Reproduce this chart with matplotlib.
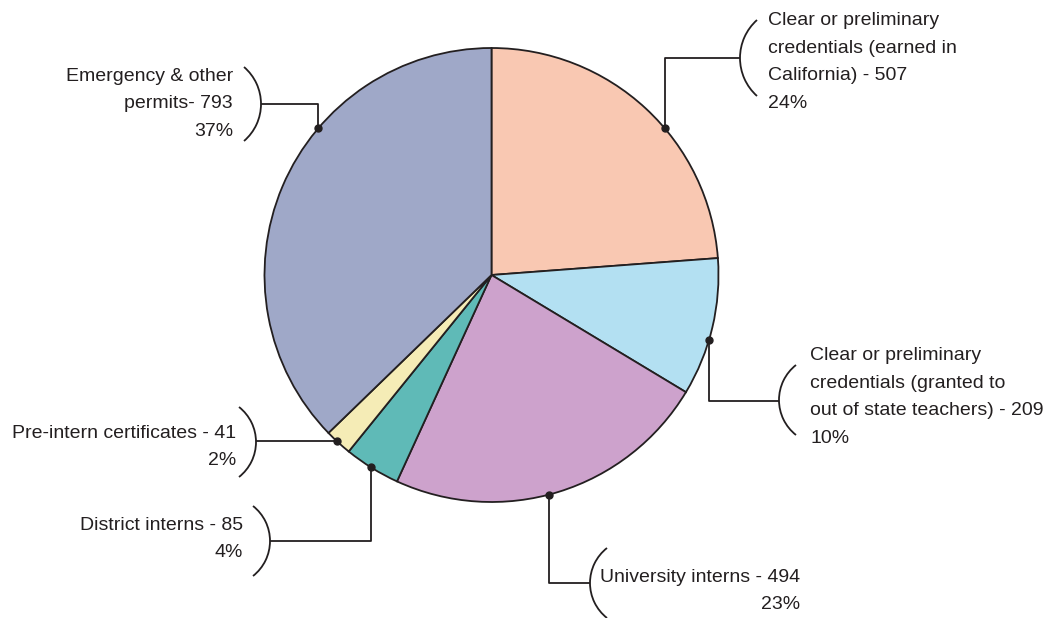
import numpy as np
import matplotlib
matplotlib.use("Agg")
import matplotlib.pyplot as plt
from matplotlib.patches import Arc

# ---- data ----
categories = [
    "Clear or preliminary\ncredentials (earned in\nCalifornia) - 507\n24%",
    "Clear or preliminary\ncredentials (granted to\nout of state teachers) - 209\n10%",
    "University interns - 494\n23%",
    "District interns - 85\n4%",
    "Pre-intern certificates - 41\n2%",
    "Emergency & other\npermits- 793\n37%",
]
values = [507, 209, 494, 85, 41, 793]
colors = ["#F9C8B2", "#B3E0F2", "#CDA2CC", "#5FBAB7", "#F5ECB6", "#9FA8C8"]

# ---- layout (image pixel coords, y down) ----
W, H = 1049, 618
CX, CY, R = 491.5, 275, 227
callouts = [
    dict(ang=40.3, path=[(None, 58)], bx=740, by=58, bh=38, side="L", tx=768, ty=62, ha="left"),
    dict(ang=-16.6, path=[(None, 401)], bx=779, by=400, bh=35, side="L", tx=810, ty=397, ha="left"),
    dict(ang=-75.4, path=[(None, 583)], bx=590, by=583, bh=35, side="L", tx=800, ty=591, ha="right"),
    dict(ang=-122.2, path=[(None, 541)], bx=270, by=541, bh=35, side="R", tx=243, ty=539, ha="right"),
    dict(ang=-132.9, path=[], bx=256, by=442, bh=35, side="R", tx=236, ty=447, ha="right"),
    dict(ang=139.7, path=[(None, 104)], bx=261, by=104, bh=37, side="R", tx=233, ty=104, ha="right"),
]

TXT = "#231F20"
plt.rcParams['font.family'] = ['Liberation Sans', 'DejaVu Sans']
FS, LS = 14.0, 1.8

fig = plt.figure(figsize=(W / 100, H / 100), dpi=100)
ax = fig.add_axes([0, 0, 1, 1])

def fy(y):
    return H - y

ax.pie(values, colors=colors, startangle=90, counterclock=False,
       center=(CX, fy(CY)), radius=R,
       wedgeprops=dict(edgecolor=TXT, linewidth=1.3))

for c, label in zip(callouts, categories):
    a = np.deg2rad(c["ang"])
    dx, dy = CX + R * np.cos(a), CY - R * np.sin(a)
    pts = [(dx, dy)]
    for px, py in c["path"]:
        pts.append((dx if px is None else px, py))
    pts.append((c["bx"], pts[-1][1]))
    xs = [p[0] for p in pts]
    ys = [fy(p[1]) for p in pts]
    ax.plot(xs, ys, color=TXT, lw=1.3, solid_capstyle="butt", zorder=5)
    ax.plot([dx], [fy(dy)], "o", color=TXT, ms=5, zorder=6)
    h = c["bh"]
    s = 17.0
    r = h * h / (2 * s) + s / 2
    half = np.rad2deg(np.arcsin(h / r))
    if c["side"] == "L":
        ccx = c["bx"] + r
        t1, t2 = 180 - half, 180 + half
    else:
        ccx = c["bx"] - r
        t1, t2 = -half, half
    ax.add_patch(Arc((ccx, fy(c["by"])), 2 * r, 2 * r, theta1=t1, theta2=t2,
                     color=TXT, lw=1.3))
    ax.text(c["tx"], fy(c["ty"]), label, ha=c["ha"], va="center",
            multialignment=c["ha"], fontsize=FS, color=TXT, linespacing=LS)

ax.set_xlim(0, W)
ax.set_ylim(0, H)
ax.set_aspect("equal")
ax.axis("off")
fig.savefig("out.png", dpi=100)
